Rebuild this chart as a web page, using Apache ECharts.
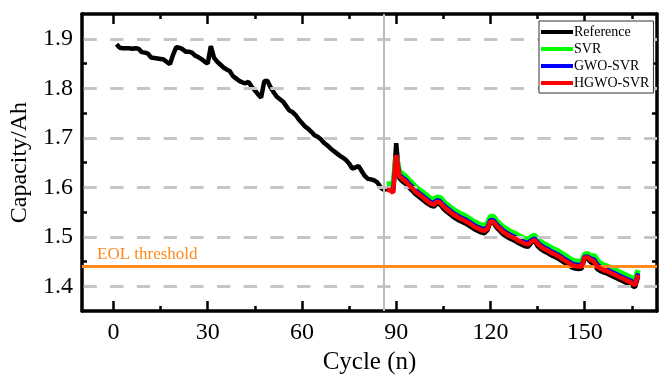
<!DOCTYPE html>
<html><head><meta charset="utf-8">
<script src="https://cdn.jsdelivr.net/npm/echarts@6/dist/echarts.min.js"></script>
<style>html,body{margin:0;padding:0;background:#fff}#c{width:662px;height:380px}</style>
</head><body><div id="c"></div>
<script>
// ---- data ----
const trainStartCycle = 1;
const refTrain = [1.889,1.882,1.881,1.881,1.881,1.880,1.881,1.880,1.873,1.872,
1.870,1.862,1.861,1.860,1.859,1.858,1.853,1.849,1.868,1.883,
1.882,1.879,1.874,1.874,1.872,1.866,1.863,1.859,1.854,1.850,
1.885,1.862,1.854,1.848,1.842,1.838,1.835,1.825,1.820,1.815,
1.812,1.810,1.813,1.803,1.796,1.788,1.781,1.814,1.815,1.802,
1.792,1.783,1.778,1.773,1.764,1.755,1.752,1.746,1.737,1.730,
1.723,1.718,1.712,1.705,1.702,1.697,1.690,1.685,1.679,1.674,
1.669,1.664,1.660,1.655,1.648,1.638,1.640,1.643,1.633,1.623,
1.617,1.616,1.614,1.610,1.600,1.595];
const testStartCycle = 87;
const refTest = [1.597,1.597,1.594,1.689,1.618,1.612,1.607,1.600,1.594,1.587,
1.582,1.577,1.572,1.567,1.563,1.561,1.568,1.565,1.557,1.551,
1.546,1.541,1.537,1.533,1.530,1.527,1.523,1.519,1.515,1.512,
1.509,1.507,1.513,1.530,1.528,1.518,1.512,1.505,1.501,1.497,
1.494,1.491,1.487,1.484,1.481,1.480,1.488,1.493,1.481,1.475,
1.471,1.468,1.464,1.461,1.458,1.454,1.450,1.446,1.442,1.438,
1.436,1.435,1.436,1.457,1.455,1.448,1.445,1.435,1.431,1.428,
1.426,1.423,1.420,1.417,1.414,1.411,1.408,1.405,1.402,1.398,1.420];
const svr = [1.606,1.607,1.604,1.662,1.632,1.627,1.622,1.615,1.609,1.602,
1.597,1.592,1.587,1.582,1.577,1.575,1.580,1.579,1.572,1.566,
1.561,1.556,1.552,1.548,1.545,1.542,1.538,1.534,1.530,1.527,
1.524,1.522,1.527,1.541,1.541,1.532,1.526,1.520,1.516,1.512,
1.509,1.506,1.502,1.499,1.496,1.495,1.500,1.503,1.496,1.490,
1.486,1.483,1.479,1.476,1.473,1.469,1.465,1.461,1.457,1.453,
1.451,1.450,1.450,1.465,1.466,1.460,1.462,1.453,1.446,1.443,
1.441,1.438,1.435,1.432,1.429,1.426,1.423,1.420,1.417,1.413,1.433];
const gwoSvr = [1.597,1.597,1.592,1.664,1.625,1.620,1.615,1.608,1.602,1.595,
1.590,1.585,1.580,1.575,1.570,1.568,1.574,1.572,1.565,1.559,
1.554,1.549,1.545,1.541,1.538,1.535,1.531,1.527,1.523,1.520,
1.517,1.515,1.519,1.534,1.533,1.525,1.519,1.513,1.509,1.505,
1.502,1.499,1.495,1.492,1.489,1.488,1.493,1.497,1.489,1.483,
1.479,1.476,1.472,1.469,1.466,1.462,1.458,1.454,1.450,1.446,
1.444,1.443,1.443,1.460,1.460,1.456,1.454,1.444,1.439,1.436,
1.434,1.431,1.428,1.425,1.422,1.419,1.416,1.413,1.410,1.405,1.426];
const hgwoSvr = [1.595,1.594,1.589,1.665,1.622,1.617,1.612,1.605,1.599,1.592,
1.587,1.582,1.577,1.572,1.567,1.565,1.571,1.569,1.562,1.556,
1.551,1.546,1.542,1.538,1.535,1.532,1.528,1.524,1.520,1.517,
1.514,1.512,1.516,1.531,1.530,1.522,1.516,1.510,1.506,1.502,
1.499,1.496,1.492,1.489,1.486,1.485,1.490,1.494,1.486,1.480,
1.476,1.473,1.469,1.466,1.463,1.459,1.455,1.451,1.447,1.443,
1.441,1.440,1.440,1.458,1.458,1.453,1.450,1.440,1.436,1.433,
1.431,1.428,1.425,1.422,1.419,1.416,1.413,1.410,1.407,1.402,1.423];
const xMajorTicks = [0,30,60,90,120,150];
const xMinorTicks = [15,45,75,105,135,165];
const yMajorTicks = [1.4,1.5,1.6,1.7,1.8,1.9];
const yMinorTicks = [1.45,1.55,1.65,1.75,1.85];
const eolThreshold = 1.44;
const splitCycle = 86;
const seriesNames = ['Reference','SVR','GWO-SVR','HGWO-SVR'];

// ---- build ----
const pairs = (start, arr) => arr.map((v,i)=>[start+i, v]);
const refData = pairs(trainStartCycle, refTrain).concat(pairs(testStartCycle, refTest));
const FONT = 'Liberation Serif';
const X_MIN = -10, X_MAX = 173, Y_MIN = 1.35, Y_MAX = 1.95;

function xAx(pos, ticks, len, showLine, showLabel){
  return {type:'value', position:pos, min:X_MIN, max:X_MAX,
    axisLine:{show:showLine, onZero:false, lineStyle:{color:'#000', width:3.5}},
    axisTick:{show:true, inside:true, length:len, customValues:ticks, lineStyle:{color:'#000', width:2.5}},
    axisLabel:{show:showLabel, customValues:ticks, color:'#000', fontFamily:FONT, fontSize:24, margin:10},
    splitLine:{show:false}, minorTick:{show:false}};
}
function yAx(pos, ticks, len, showLine, showLabel){
  return {type:'value', position:pos, min:Y_MIN, max:Y_MAX,
    axisLine:{show:showLine, onZero:false, lineStyle:{color:'#000', width:3.5}},
    axisTick:{show:true, inside:true, length:len, customValues:ticks, lineStyle:{color:'#000', width:2.5}},
    axisLabel:{show:showLabel, customValues:ticks, color:'#000', fontFamily:FONT, fontSize:24, margin:9,
      formatter:v=>v.toFixed(1)},
    splitLine:{show:false}, minorTick:{show:false}};
}
const xAxes = [xAx('bottom', xMajorTicks, 10, true, true), xAx('bottom', xMinorTicks, 5, false, false),
  xAx('top', xMajorTicks, 10, true, false), xAx('top', xMinorTicks, 5, false, false)];
xAxes[0].name = 'Cycle (n)'; xAxes[0].nameLocation='middle'; xAxes[0].nameGap = 38;
xAxes[0].nameTextStyle = {color:'#000', fontFamily:FONT, fontSize:25};
const yAxes = [yAx('left', yMajorTicks, 10, true, true), yAx('left', yMinorTicks, 5, false, false),
  yAx('right', yMajorTicks, 8, true, false), yAx('right', yMinorTicks, 5, false, false)];
yAxes[0].name = 'Capacity/Ah'; yAxes[0].nameLocation='middle'; yAxes[0].nameGap = 46;
yAxes[0].nameTextStyle = {color:'#000', fontFamily:FONT, fontSize:24};

const lineS = (name, data, color, width, z) => ({name, type:'line', data, showSymbol:false, symbol:'none',
  lineStyle:{color, width}, itemStyle:{color}, z, animation:false, silent:true});

const option = {
  animation:false,
  grid:{left:82, right:5, top:14, bottom:62, containLabel:false},
  xAxis: xAxes, yAxis: yAxes,
  legend:{data:seriesNames, orient:'vertical', left:539, top:21, icon:'rect', itemWidth:32, itemHeight:4,
    itemGap:3, padding:[4,4,3,2], backgroundColor:'#fff', borderColor:'#333', borderWidth:1,
    textStyle:{color:'#000', fontFamily:FONT, fontSize:14, padding:[0,0,0,-4]}, z:20},
  series:[
    {type:'line', data:[], z:1, silent:true, markLine:{silent:true, symbol:'none', animation:false,
      label:{show:false}, lineStyle:{color:'#c6c6c6', width:3, type:[13.3,13.4], dashOffset:-1.5},
      data: yMajorTicks.map(v=>({yAxis:v}))}},
    {type:'line', data:[], z:1, silent:true, markLine:{silent:true, symbol:'none', animation:false,
      label:{show:false}, lineStyle:{color:'#bdbdbd', width:2, type:'solid'},
      data:[{xAxis:splitCycle}]}},
    lineS(seriesNames[0], refData, '#000000', 4.5, 2),
    lineS(seriesNames[1], pairs(testStartCycle, svr), '#00ff00', 5.5, 3),
    lineS(seriesNames[2], pairs(testStartCycle, gwoSvr), '#0000ff', 4.5, 4),
    lineS(seriesNames[3], pairs(testStartCycle, hgwoSvr), '#ff0000', 4.5, 5),
    {type:'line', data:[], z:10, silent:true, markLine:{silent:true, symbol:'none', animation:false,
      lineStyle:{color:'#ff8a1c', width:3, type:'solid'},
      label:{show:true, position:'insideStartTop', formatter:'EOL threshold', color:'#ff8a1c',
        fontFamily:FONT, fontSize:17, distance:[15,4]},
      data:[{yAxis:eolThreshold}]}}
  ]
};
const chart = echarts.init(document.getElementById('c'), null, {renderer:'canvas'});
chart.setOption(option);
</script></body></html>
